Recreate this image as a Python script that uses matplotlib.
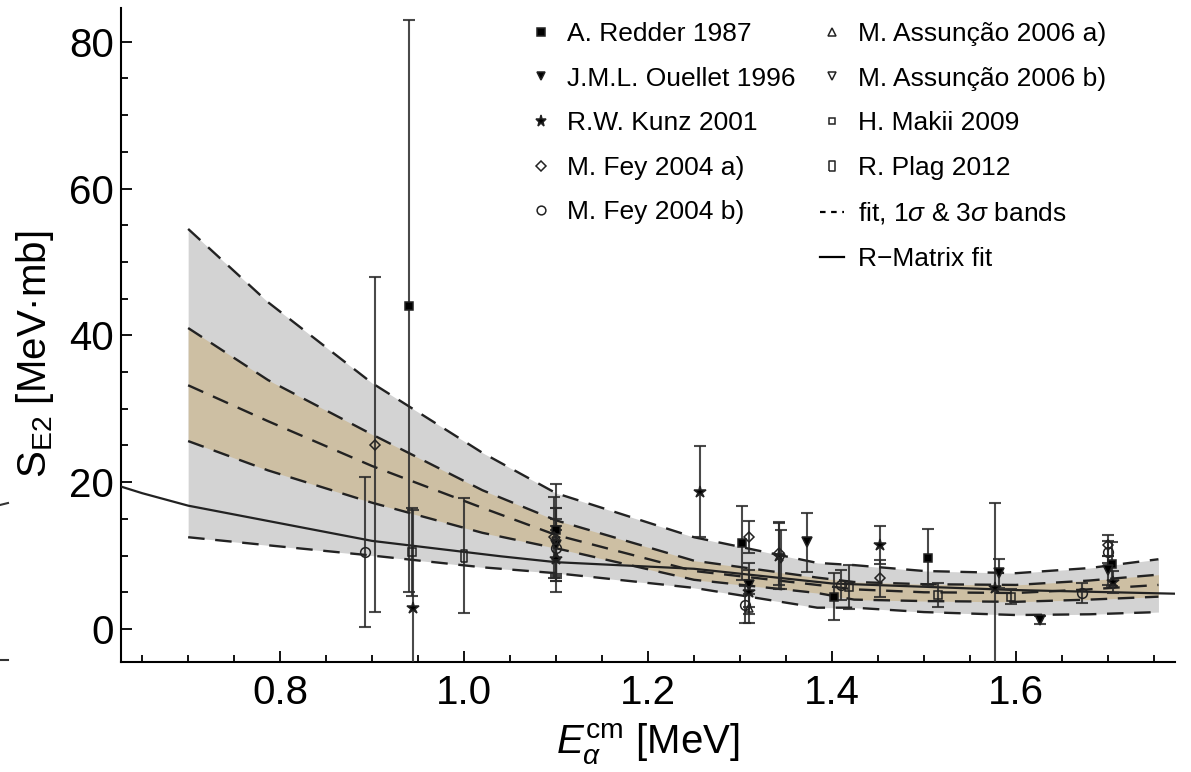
import numpy as np
import matplotlib
matplotlib.use("Agg")
import matplotlib.pyplot as plt
from matplotlib.lines import Line2D
from matplotlib.ticker import MultipleLocator

plt.rcParams['font.family'] = ['Liberation Sans', 'DejaVu Sans']
plt.rcParams['mathtext.fontset'] = 'custom'
plt.rcParams['mathtext.rm'] = 'Liberation Sans'
plt.rcParams['mathtext.it'] = 'Liberation Sans:italic'
plt.rcParams['mathtext.bf'] = 'Liberation Sans:bold'

# ---------------- data ----------------
band_x = [0.70, 0.787, 0.90, 1.02, 1.10, 1.25, 1.384, 1.424, 1.50, 1.60, 1.68, 1.755]
band_u3 = [54.5, 44.5, 33.5, 24.0, 18.5, 12.5, 9.0, 8.7, 7.9, 7.6, 8.3, 9.5]
band_u1 = [41.0, 33.9, 26.5, 18.9, 14.8, 9.3, 7.0, 6.4, 6.1, 6.0, 6.6, 7.4]
band_c = [33.2, 28.3, 22.2, 16.5, 12.8, 7.9, 6.0, 5.4, 5.0, 4.9, 5.4, 6.0]
band_l1 = [25.6, 21.6, 17.2, 13.1, 11.0, 6.7, 4.9, 4.0, 3.8, 3.7, 4.0, 4.4]
band_l3 = [12.5, 11.4, 10.0, 8.4, 7.6, 5.6, 2.9, 2.9, 2.3, 1.9, 2.0, 2.3]

rm_x = [0.627, 0.65, 0.70, 0.80, 0.90, 1.04, 1.10, 1.25, 1.40, 1.60, 1.775]
rm_y = [19.4, 18.5, 16.8, 14.4, 12.0, 9.9, 9.1, 8.2, 6.2, 5.3, 4.8]

redder_x = [0.940, 1.100, 1.302, 1.402, 1.504, 1.705]
redder_y = [44.0, 13.5, 11.7, 4.4, 9.7, 8.9]
redder_e = [39.0, 6.3, 5.0, 3.2, 3.9, 3.0]

ouellet_x = [1.100, 1.310, 1.373, 1.582, 1.626, 1.700]
ouellet_y = [11.5, 6.0, 11.8, 7.6, 1.2, 8.0]
ouellet_e = [5.0, 3.0, 4.0, 2.0, 0.5, 2.0]

kunz_x = [0.945, 1.100, 1.257, 1.310, 1.342, 1.452, 1.577, 1.706]
kunz_y = [2.8, 9.5, 18.7, 5.0, 10.0, 11.4, 5.6, 6.4]
kunz_e = [13.4, 4.5, 6.2, 3.0, 4.5, 2.6, 11.5, 1.5]

feya_x = [0.903, 1.098, 1.310, 1.342, 1.452, 1.700]
feya_y = [25.1, 12.5, 12.5, 10.3, 6.9, 11.4]
feya_e = [22.8, 5.5, 2.2, 4.3, 2.5, 1.4]

feyb_x = [0.892, 1.100, 1.305, 1.410, 1.672, 1.700]
feyb_y = [10.5, 11.0, 3.3, 6.0, 4.9, 10.5]
feyb_e = [10.2, 4.0, 2.5, 2.0, 1.3, 1.5]

assa_x = [1.100, 1.310]
assa_y = [10.0, 2.8]
assa_e = [3.5, 2.0]

assb_x = [1.100, 1.345]
assb_y = [12.0, 9.5]
assb_e = [4.5, 4.0]

makii_x = [0.943, 1.419, 1.515, 1.595]
makii_y = [10.5, 5.7, 4.6, 4.4]
makii_e = [6.0, 3.0, 1.6, 1.0]

plag_x = [1.000]
plag_y = [10.0]
plag_e = [7.8]

x_ticks = [0.8, 1.0, 1.2, 1.4, 1.6]
y_ticks = [0, 20, 40, 60, 80]

# ---------------- figure ----------------
fig = plt.figure(figsize=(11.91, 7.72), dpi=100)
ax = fig.add_axes([121/1191, 110/772, (1175-121)/1191, (662-8)/772])
ax.set_xlim(0.627, 1.773)
ax.set_ylim(-4.5, 84.6)

grey = '#d3d3d3'
tan = '#cdbfa3'
ax.fill_between(band_x, band_l3, band_u3, color=grey, lw=0, zorder=1)
ax.fill_between(band_x, band_l1, band_u1, color=tan, lw=0, zorder=2)
dash = (0, (7, 4.5))
for yy in (band_u3, band_u1, band_c, band_l1, band_l3):
    ax.plot(band_x, yy, color='#222222', lw=1.7, ls=dash, zorder=3)

ax.plot(rm_x, rm_y, color='#222222', lw=1.6, zorder=4)

tall_rect = [(-0.55, -1), (0.55, -1), (0.55, 1), (-0.55, 1), (-0.55, -1)]
series = [
    ('A. Redder 1987', redder_x, redder_y, redder_e, 's', 'black', 6),
    ('J.M.L. Ouellet 1996', ouellet_x, ouellet_y, ouellet_e, 'v', 'black', 7),
    ('R.W. Kunz 2001', kunz_x, kunz_y, kunz_e, '*', 'black', 9),
    ('M. Fey 2004 a)', feya_x, feya_y, feya_e, 'D', 'none', 5.5),
    ('M. Fey 2004 b)', feyb_x, feyb_y, feyb_e, 'o', 'none', 7),
    ('M. Assunção 2006 a)', assa_x, assa_y, assa_e, '^', 'none', 6),
    ('M. Assunção 2006 b)', assb_x, assb_y, assb_e, 'v', 'none', 6),
    ('H. Makii 2009', makii_x, makii_y, makii_e, 's', 'none', 5.5),
    ('R. Plag 2012', plag_x, plag_y, plag_e, tall_rect, 'none', 8),
]
handles = []
for lab, xs, ys, es, mk, fc, ms in series:
    ax.errorbar(xs, ys, yerr=es, fmt='none', ecolor='#2a2a2a', elinewidth=1.5,
                capsize=4, capthick=1.5, alpha=0.85, zorder=5)
    ax.plot(xs, ys, ls='none', marker=mk, ms=ms, mfc=fc, mec='#222222', mew=1.1, zorder=6)
    handles.append(Line2D([], [], ls='none', marker=mk, ms=ms * 0.9, mfc=fc,
                          mec='#222222', mew=1.1, label=lab))

h_fit = Line2D([], [], color='black', lw=1.6, ls=(0, (2.5, 2.5)), label='fit, 1$\\sigma$ & 3$\\sigma$ bands')
h_rm = Line2D([], [], color='black', lw=1.6, label='R\u2212Matrix fit')

leg_kw = dict(frameon=False, fontsize=19, handlelength=0.9, handletextpad=0.55,
              labelspacing=0.78, borderpad=0, borderaxespad=0, loc='upper left')
leg1 = ax.legend(handles=handles[:5], bbox_to_anchor=((529-121)/1054, (662-22)/654), **leg_kw)
ax.add_artist(leg1)
leg2 = ax.legend(handles=handles[5:] + [h_fit, h_rm], bbox_to_anchor=((820-121)/1054, (662-22)/654), **leg_kw)

# axes styling
for s in ('top', 'right'):
    ax.spines[s].set_visible(False)
for s in ('left', 'bottom'):
    ax.spines[s].set_linewidth(1.5)
ax.set_xticks(x_ticks)
ax.set_xticklabels([f'{v:.1f}' for v in x_ticks])
ax.set_yticks(y_ticks)
ax.xaxis.set_minor_locator(MultipleLocator(0.05))
ax.yaxis.set_minor_locator(MultipleLocator(5))
ax.tick_params(which='both', direction='in', width=1.3, labelsize=29)
ax.tick_params(which='major', length=8)
ax.tick_params(which='minor', length=5)
ax.tick_params(axis='x', pad=9)
ax.tick_params(axis='y', pad=5)

ax.set_xlabel('$E_{\\alpha}^{\\mathrm{cm}}$ [MeV]', fontsize=29, labelpad=6)
ax.set_ylabel('S$_{\\mathrm{E2}}$ [MeV·mb]', fontsize=29, labelpad=8)
ax.yaxis.set_label_coords(-0.062, 0.47)

# small stray marks at the left edge (cropping remnants)
fig.add_artist(Line2D([0, 8/1191], [1-505/772, 1-503/772], color='#333333', lw=1.5))
fig.add_artist(Line2D([0, 8/1191], [1-660/772, 1-660/772], color='#333333', lw=1.5))

fig.savefig('out.png', dpi=100)
